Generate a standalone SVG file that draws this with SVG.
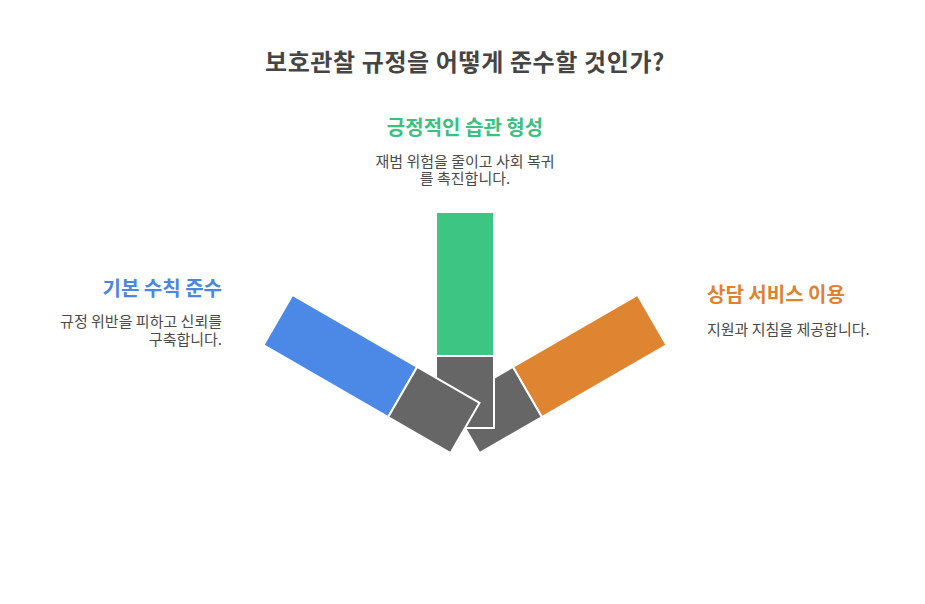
<svg xmlns="http://www.w3.org/2000/svg" width="925" height="604" viewBox="0 0 925 604">
<style>
text{font-family:"Noto Sans CJK KR","Noto Sans",sans-serif}
.title{font-size:24px;font-weight:700;fill:#454545;letter-spacing:0.6px}
.head{font-size:20px;font-weight:700}
.desc{font-size:15px;fill:#4a4a4a}
.seg{stroke:#ffffff;stroke-width:2}
.gray{fill:#666666}
</style>
<rect width="925" height="604" fill="#ffffff"/>
<text class="title" x="465" y="71" text-anchor="middle">보호관찰 규정을 어떻게 준수할 것인가?</text>
<g id="right-bar" transform="rotate(60 465 428)">
<rect class="seg" x="436" y="212" width="58" height="144" fill="#df8431"/>
<rect class="seg gray" x="436" y="356" width="58" height="72"/>
</g>
<g id="center-bar">
<rect class="seg" x="436" y="212" width="58" height="144" fill="#3dc683"/>
<rect class="seg gray" x="436" y="356" width="58" height="72"/>
</g>
<g id="left-bar" transform="rotate(-60 465 428)">
<rect class="seg" x="436" y="212" width="58" height="144" fill="#4c89e6"/>
<rect class="seg gray" x="436" y="356" width="58" height="72"/>
</g>
<g id="label-center">
<text class="head" x="465" y="135" text-anchor="middle" fill="#3dc07f">긍정적인 습관 형성</text>
<text class="desc" text-anchor="middle"><tspan x="465" y="167">재범 위험을 줄이고 사회 복귀</tspan><tspan x="465" y="184">를 촉진합니다.</tspan></text>
</g>
<g id="label-left">
<text class="head" x="222" y="296" text-anchor="end" fill="#4a86e3">기본 수칙 준수</text>
<text class="desc" text-anchor="end"><tspan x="222" y="327">규정 위반을 피하고 신뢰를</tspan><tspan x="222" y="345">구축합니다.</tspan></text>
</g>
<g id="label-right">
<text class="head" x="707" y="302" fill="#de8230">상담 서비스 이용</text>
<text class="desc" x="707" y="335">지원과 지침을 제공합니다.</text>
</g>
</svg>
